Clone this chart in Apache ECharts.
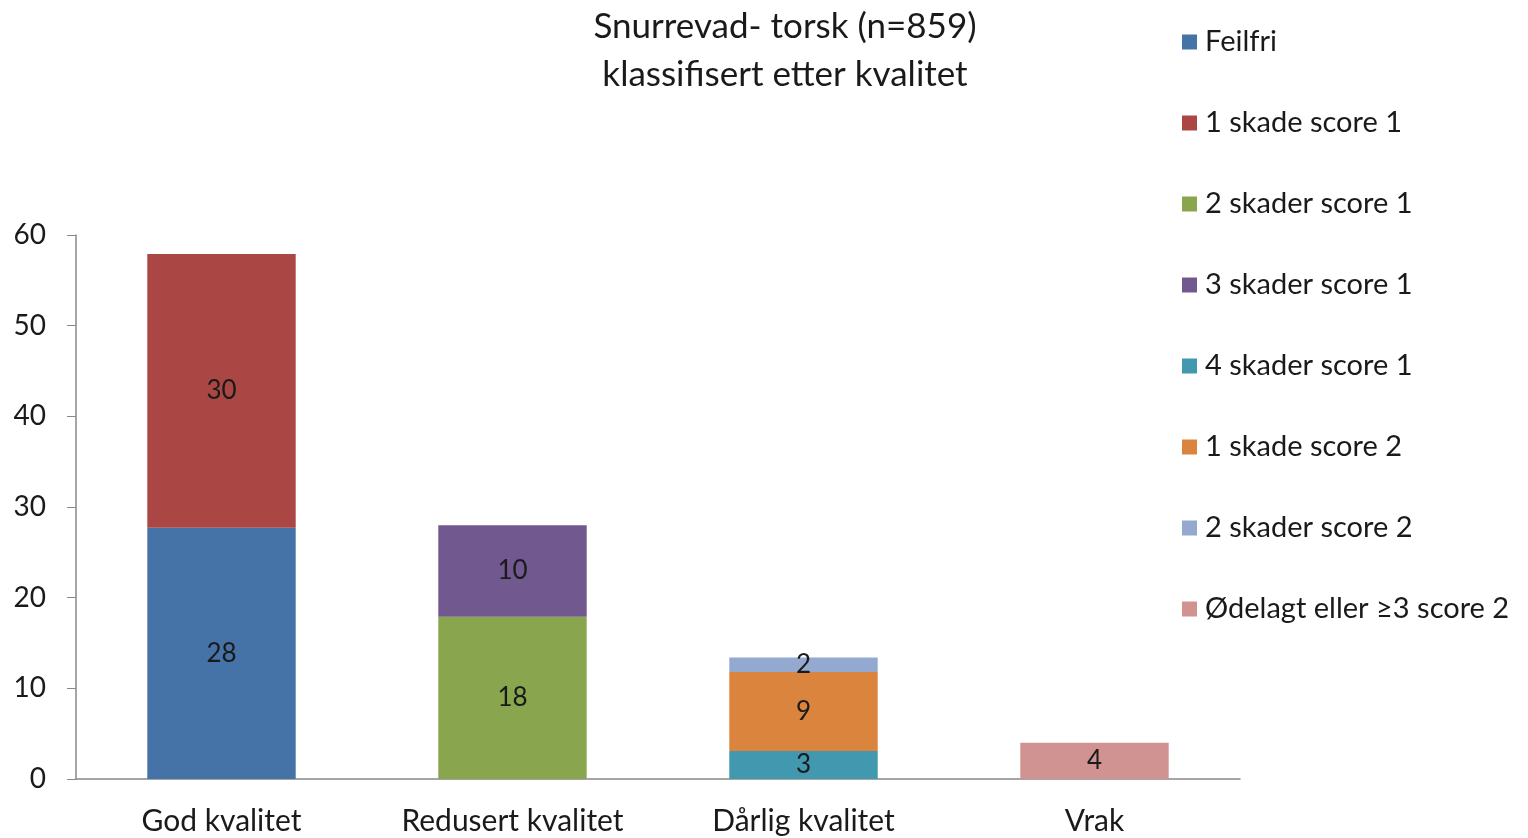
<!DOCTYPE html>
<html>
<head>
<meta charset="utf-8">
<script src="https://cdn.jsdelivr.net/npm/echarts@6/dist/echarts.min.js"></script>
<style>
html,body{margin:0;padding:0;background:#fff;}
#c{width:1528px;height:838px;}
</style>
</head>
<body>
<div id="c"></div>
<script>
const categories = ['God kvalitet', 'Redusert kvalitet', 'Dårlig kvalitet', 'Vrak'];
const seriesNames = ['Feilfri', '1 skade score 1', '2 skader score 1', '3 skader score 1', '4 skader score 1', '1 skade score 2', '2 skader score 2', 'Ødelagt eller ≥3 score 2'];
const feilfri       = [27.7, null, null, null];
const skade1score1  = [30.2, null, null, null];
const skader2score1 = [null, 17.9, null, null];
const skader3score1 = [null, 10.1, null, null];
const skader4score1 = [null, null, 3.1, null];
const skade1score2  = [null, null, 8.7, null];
const skader2score2 = [null, null, 1.6, null];
const odelagt       = [null, null, null, 4.0];
const yTicks = [0, 10, 20, 30, 40, 50, 60];
const colors = ['#4572A7', '#AA4643', '#89A54E', '#71588F', '#4198AF', '#DB843D', '#93A9CF', '#D19392'];
const values = [feilfri, skade1score1, skader2score1, skader3score1, skader4score1, skade1score2, skader2score2, odelagt];

const FONT = 'Lato, "Open Sans", sans-serif';
const chart = echarts.init(document.getElementById('c'));
chart.setOption({
  animation: false,
  backgroundColor: '#fff',
  color: colors,
  textStyle: { fontFamily: FONT },
  title: {
    text: 'Snurrevad- torsk (n=859)\nklassifisert etter kvalitet',
    left: 780, textAlign: 'center', top: -2,
    textStyle: { fontFamily: FONT, fontSize: 35, fontWeight: 'normal', color: '#1a1a1a', lineHeight: 48 }
  },
  legend: {
    orient: 'vertical', left: 1177, top: 22,
    itemWidth: 15, itemHeight: 15, itemGap: 51,
    icon: 'rect',
    data: seriesNames,
    textStyle: { fontFamily: FONT, fontSize: 29, color: '#1a1a1a', lineHeight: 30, padding: [0,0,0,3] }
  },
  grid: { left: 76, right: 288, top: 235, bottom: 59, containLabel: false },
  xAxis: {
    type: 'category', data: categories,
    axisLine: { lineStyle: { color: '#888', width: 1.5 } },
    axisTick: { show: false },
    axisLabel: { fontFamily: FONT, fontSize: 30, color: '#1a1a1a', margin: 27 }
  },
  yAxis: {
    type: 'value', min: yTicks[0], max: yTicks[yTicks.length - 1], interval: 10,
    axisLine: { show: true, lineStyle: { color: '#888', width: 1.5 } },
    axisTick: { show: true, length: 9, lineStyle: { color: '#888' } },
    splitLine: { show: false },
    axisLabel: { fontFamily: FONT, fontSize: 28, color: '#1a1a1a', margin: 30 }
  },
  series: seriesNames.map((n, i) => ({
    name: n, type: 'bar', stack: 'total', data: values[i],
    barWidth: '51%',
    label: {
      show: true, position: 'inside', fontFamily: FONT, fontSize: 26, color: '#1a1a1a',
      formatter: p => p.value == null ? '' : Math.round(p.value)
    }
  }))
});
</script>
</body>
</html>
